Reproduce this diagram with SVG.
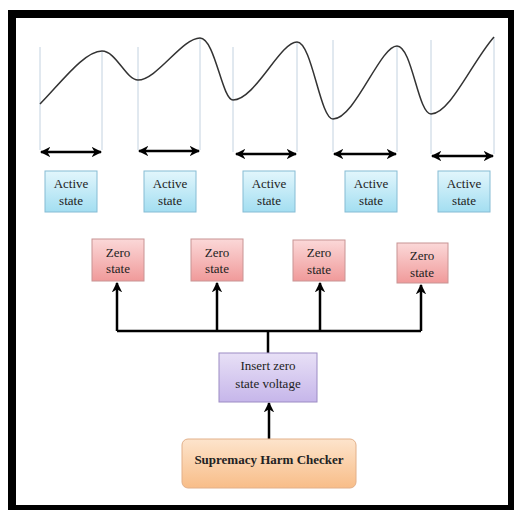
<svg xmlns="http://www.w3.org/2000/svg" width="514" height="510" viewBox="0 0 514 510">
<defs>
<linearGradient id="gA" x1="0" y1="0" x2="0" y2="1"><stop offset="0" stop-color="#e2f6fc"/><stop offset="1" stop-color="#a3def1"/></linearGradient>
<linearGradient id="gZ" x1="0" y1="0" x2="0" y2="1"><stop offset="0" stop-color="#fbd8d8"/><stop offset="1" stop-color="#f09a9a"/></linearGradient>
<linearGradient id="gI" x1="0" y1="0" x2="0" y2="1"><stop offset="0" stop-color="#e8e0f6"/><stop offset="1" stop-color="#c6b6ea"/></linearGradient>
<linearGradient id="gS" x1="0" y1="0" x2="0" y2="1"><stop offset="0" stop-color="#fde4cc"/><stop offset="1" stop-color="#f8bd88"/></linearGradient>
<marker id="ah" viewBox="0 0 10 10" refX="9" refY="5" markerWidth="4.2" markerHeight="4.2" orient="auto-start-reverse" markerUnits="strokeWidth">
<path d="M0,0 L10,5 L0,10 L3,5 z" fill="#000"/>
</marker>
<style>
.t{font-family:"Liberation Serif","Times New Roman",serif;font-size:13px;fill:#222;text-anchor:middle}
.b{font-weight:bold;font-size:13px}
.act{fill:url(#gA);stroke:#86bcd4;stroke-width:1}
.zer{fill:url(#gZ);stroke:#c89494;stroke-width:1}
.ins{fill:url(#gI);stroke:#9c8cc4;stroke-width:1}
.sup{fill:url(#gS);stroke:#e2b08a;stroke-width:1}
.vl{stroke:#b4c6d8;stroke-width:0.8;fill:none}
.da{stroke:#000;stroke-width:2.5;fill:none;marker-start:url(#ah);marker-end:url(#ah)}
.ar{stroke:#000;stroke-width:2.5;fill:none;marker-end:url(#ah)}
.ln{stroke:#000;stroke-width:2.5;fill:none}
</style>
</defs>
<rect x="0" y="0" width="514" height="510" fill="#fff"/>
<rect x="12" y="14" width="500" height="495" fill="#fff" stroke="#000" stroke-width="8"/>
<g id="waveform">
<line class="vl" x1="40" y1="47" x2="40" y2="150"/>
<line class="vl" x1="102" y1="51" x2="102" y2="150"/>
<line class="vl" x1="138" y1="47" x2="138" y2="150"/>
<line class="vl" x1="200" y1="38" x2="200" y2="150"/>
<line class="vl" x1="233" y1="47" x2="233" y2="152"/>
<line class="vl" x1="297" y1="42" x2="297" y2="152"/>
<line class="vl" x1="333" y1="40" x2="333" y2="152"/>
<line class="vl" x1="397" y1="46" x2="397" y2="152"/>
<line class="vl" x1="431" y1="40" x2="431" y2="154"/>
<line class="vl" x1="494" y1="37" x2="494" y2="154"/>
<path d="M40,104 C60,84 84,51 102,51 C116,51 126,80 138,80 C157,80 182,38 200,38 C215,38 222,100 233,100 C255,100 280,42 297,42 C312,42 320,119 333,119 C355,119 380,46 397,46 C412,46 418,114 431,114 C450,114 472,62 494,37" fill="none" stroke="#333" stroke-width="1.5"/>
</g>
<g id="connectors">
<line class="da" x1="41" y1="152" x2="101" y2="152"/>
<line class="da" x1="139" y1="151" x2="199" y2="151"/>
<line class="da" x1="236" y1="154" x2="296" y2="154"/>
<line class="da" x1="334" y1="154" x2="396" y2="154"/>
<line class="da" x1="432" y1="156" x2="493" y2="156"/>
<polyline class="ln" points="117,331 421,331"/>
<line class="ar" x1="117" y1="331" x2="117" y2="283"/>
<line class="ar" x1="217" y1="331" x2="217" y2="283"/>
<line class="ar" x1="320" y1="331" x2="320" y2="283"/>
<line class="ar" x1="421" y1="331" x2="421" y2="285"/>
<line class="ln" x1="268" y1="331" x2="268" y2="353"/>
<line class="ar" x1="269" y1="439" x2="269" y2="403"/>
</g>
<g id="active1"><rect class="act" x="45" y="171" width="52" height="41"/><text class="t" x="71" y="188">Active</text><text class="t" x="71" y="205">state</text></g>
<g id="active2"><rect class="act" x="144" y="171" width="52" height="41"/><text class="t" x="170" y="188">Active</text><text class="t" x="170" y="205">state</text></g>
<g id="active3"><rect class="act" x="243" y="171" width="52" height="41"/><text class="t" x="269" y="188">Active</text><text class="t" x="269" y="205">state</text></g>
<g id="active4"><rect class="act" x="345" y="171" width="52" height="41"/><text class="t" x="371" y="188">Active</text><text class="t" x="371" y="205">state</text></g>
<g id="active5"><rect class="act" x="438" y="171" width="52" height="41"/><text class="t" x="464" y="188">Active</text><text class="t" x="464" y="205">state</text></g>
<g id="zero1"><rect class="zer" x="92" y="239" width="52" height="42"/><text class="t" x="118" y="257">Zero</text><text class="t" x="118" y="273">state</text></g>
<g id="zero2"><rect class="zer" x="191" y="239" width="52" height="42"/><text class="t" x="217" y="257">Zero</text><text class="t" x="217" y="273">state</text></g>
<g id="zero3"><rect class="zer" x="293" y="240" width="52" height="41"/><text class="t" x="319" y="257">Zero</text><text class="t" x="319" y="274">state</text></g>
<g id="zero4"><rect class="zer" x="397" y="243" width="51" height="40"/><text class="t" x="422" y="260">Zero</text><text class="t" x="422" y="277">state</text></g>
<g id="insert"><rect class="ins" x="219" y="353" width="98" height="49"/><text class="t" x="268" y="370">Insert zero</text><text class="t" x="268" y="388">state voltage</text></g>
<g id="checker"><rect class="sup" x="182" y="439" width="174" height="49" rx="6"/><text class="t b" x="269" y="464">Supremacy Harm Checker</text></g>
</svg>
